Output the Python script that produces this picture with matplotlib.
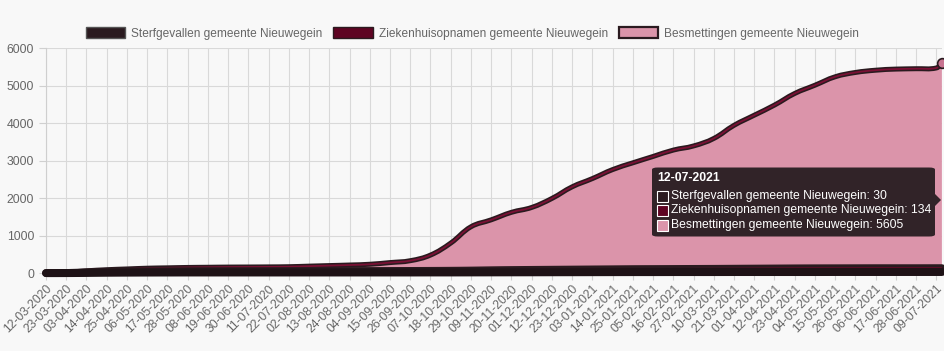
import matplotlib
matplotlib.use("Agg")
import matplotlib.pyplot as plt
import matplotlib.dates as mdates
from matplotlib.patches import Patch, FancyBboxPatch, Rectangle, Polygon, PathPatch
from matplotlib.path import Path
import numpy as np
import pandas as pd

plt.rcParams['font.family'] = ['Liberation Sans', 'DejaVu Sans']

# tick labels (every 11 days) and the last data date
tick_labels = ['12-03-2020', '23-03-2020', '03-04-2020', '14-04-2020', '25-04-2020',
               '06-05-2020', '17-05-2020', '28-05-2020', '08-06-2020', '19-06-2020',
               '30-06-2020', '11-07-2020', '22-07-2020', '02-08-2020', '13-08-2020',
               '24-08-2020', '04-09-2020', '15-09-2020', '26-09-2020', '07-10-2020',
               '18-10-2020', '29-10-2020', '09-11-2020', '20-11-2020', '01-12-2020',
               '12-12-2020', '23-12-2020', '03-01-2021', '14-01-2021', '25-01-2021',
               '05-02-2021', '16-02-2021', '27-02-2021', '10-03-2021', '21-03-2021',
               '01-04-2021', '12-04-2021', '23-04-2021', '04-05-2021', '15-05-2021',
               '26-05-2021', '06-06-2021', '17-06-2021', '28-06-2021', '09-07-2021']
last_date = '12-07-2021'

besmettingen = [0, 20, 60, 90, 110, 130, 140, 150, 155, 160,
                162, 165, 170, 185, 200, 215, 235, 280, 330, 480,
                800, 1235, 1420, 1620, 1750, 1990, 2300, 2520, 2760, 2940,
                3110, 3280, 3390, 3590, 3940, 4210, 4480, 4790, 5010, 5235,
                5350, 5410, 5440, 5450, 5470, 5605]
ziekenhuis = [0, 5, 20, 35, 45, 50, 52, 54, 55, 55,
              55, 55, 55, 56, 57, 58, 58, 59, 60, 62,
              65, 70, 78, 84, 88, 92, 96, 100, 104, 108,
              110, 112, 114, 116, 119, 122, 125, 128, 130, 131,
              132, 133, 133, 133, 134, 134]
sterfgevallen = [0, 1, 5, 10, 13, 15, 16, 17, 17, 17,
                 17, 17, 17, 17, 17, 17, 17, 17, 17, 18,
                 18, 19, 20, 21, 22, 23, 24, 25, 26, 27,
                 27, 28, 28, 28, 29, 29, 29, 29, 29, 30,
                 30, 30, 30, 30, 30, 30]

names = ['Sterfgevallen gemeente Nieuwegein',
         'Ziekenhuisopnamen gemeente Nieuwegein',
         'Besmettingen gemeente Nieuwegein']

dates = pd.to_datetime(tick_labels + [last_date], format='%d-%m-%Y')
ticks = pd.to_datetime(tick_labels, format='%d-%m-%Y')

bg = '#f8f8f8'
dark = '#2a1a1f'
crimson = '#5e0322'
pink = '#db94aa'


def spline_path(xs, ys, tension=0.4, yscale=0.0204):
    # Chart.js style bezier through the points
    xs = np.asarray(xs, float)
    ys = np.asarray(ys, float)
    n = len(xs)
    verts = [(xs[0], ys[0])]
    codes = [Path.MOVETO]
    cps = []
    for i in range(n):
        p0 = (xs[max(i - 1, 0)], ys[max(i - 1, 0)])
        p2 = (xs[min(i + 1, n - 1)], ys[min(i + 1, n - 1)])
        p1 = (xs[i], ys[i])
        d01 = np.hypot(p1[0] - p0[0], (p1[1] - p0[1]) * yscale)
        d12 = np.hypot(p2[0] - p1[0], (p2[1] - p1[1]) * yscale)
        s = d01 + d12 if d01 + d12 > 0 else 1
        fa = tension * d01 / s
        fb = tension * d12 / s
        cps.append(((p1[0] - fa * (p2[0] - p0[0]), p1[1] - fa * (p2[1] - p0[1])),
                    (p1[0] + fb * (p2[0] - p0[0]), p1[1] + fb * (p2[1] - p0[1]))))
    for i in range(1, n):
        verts += [cps[i - 1][1], cps[i][0], (xs[i], ys[i])]
        codes += [Path.CURVE4] * 3
    return verts, codes


fig = plt.figure(figsize=(9.45, 3.51), dpi=100, facecolor=bg)
ax = fig.add_axes([0.0487, 0.222, 0.948, 0.641], facecolor=bg)

xn = mdates.date2num(dates)

# Besmettingen
v, c = spline_path(xn, besmettingen)
fill_v = v + [(xn[-1], 0), (xn[0], 0), v[0]]
fill_c = c + [Path.LINETO, Path.LINETO, Path.CLOSEPOLY]
ax.add_patch(PathPatch(Path(fill_v, fill_c), facecolor=pink, edgecolor='none', zorder=2))
ax.add_patch(PathPatch(Path(v, c), facecolor='none', edgecolor=dark, lw=3.6,
                       capstyle='round', zorder=3, clip_on=False))
ax.add_patch(PathPatch(Path(v, c), facecolor='none', edgecolor='#7a1034', lw=1.3,
                       zorder=3.1, clip_on=False))
ax.plot(dates[-1:], besmettingen[-1:], 'o', ms=7, mfc='#c87390', mec=dark, mew=1.2, zorder=3.2, clip_on=False)

# Ziekenhuisopnamen
v, c = spline_path(xn, ziekenhuis)
ax.add_patch(PathPatch(Path(v, c), facecolor='none', edgecolor=dark, lw=5.5,
                       capstyle='round', zorder=4, clip_on=False))
ax.add_patch(PathPatch(Path(v, c), facecolor='none', edgecolor='#6a0a2a', lw=1.3,
                       zorder=4.1, clip_on=False))

# Sterfgevallen
v, c = spline_path(xn, sterfgevallen)
ax.add_patch(PathPatch(Path(v, c), facecolor='none', edgecolor='#1e1216', lw=5.8,
                       capstyle='round', zorder=5, clip_on=False))

ax.set_xlim(dates[0], dates[-1])
ax.set_ylim(0, 6000)
ax.set_yticks(range(0, 6001, 1000))
ax.set_xticks(ticks)
ax.set_xticklabels(tick_labels, rotation=45, ha='right', rotation_mode='anchor')
ax.tick_params(axis='both', colors='#d0d0d0', labelcolor='#666666', labelsize=8.8, length=5, width=0.8)
ax.tick_params(axis='x', pad=2)
ax.grid(True, color='#d9d9d9', lw=0.8, zorder=1)
ax.set_axisbelow(True)
for s in ['top', 'right']:
    ax.spines[s].set_visible(False)
for s in ['left', 'bottom']:
    ax.spines[s].set_color('#cfcfcf')
    ax.spines[s].set_linewidth(0.8)

# legend
handles = [Patch(facecolor=dark, edgecolor='#555555', lw=1.0),
           Patch(facecolor=crimson, edgecolor='#2a1a1f', lw=1.0),
           Patch(facecolor=pink, edgecolor=dark, lw=1.6)]
fig.legend(handles, names, loc='center', bbox_to_anchor=(0.5, 0.905), ncol=3,
           frameon=False, fontsize=8.6, handlelength=3.3, handleheight=1.1,
           handletextpad=0.5, columnspacing=0.9, labelcolor='#666666')

# tooltip
W, H = 945.0, 351.0
def fx(px):
    return px / W
def fy(py):
    return 1 - py / H

tip = FancyBboxPatch((fx(652), fy(236.5)), fx(935) - fx(652), fy(167.5) - fy(236.5),
                     boxstyle='round,pad=0,rounding_size=0.006', transform=fig.transFigure,
                     facecolor='#2b1f24', edgecolor='none', alpha=0.97, zorder=10)
fig.add_artist(tip)
fig.add_artist(Polygon([(fx(935), fy(194)), (fx(941), fy(200)), (fx(935), fy(206))],
                       closed=True, transform=fig.transFigure, facecolor='#2b1f24',
                       edgecolor='none', alpha=0.97, zorder=10))
fig.text(fx(657), fy(178), last_date, color='white', fontsize=8.8, fontweight='bold',
         va='center', ha='left', zorder=11)
values = [sterfgevallen[-1], ziekenhuis[-1], besmettingen[-1]]
swatches = [dark, crimson, pink]
for i, (n, val, col) in enumerate(zip(names, values, swatches)):
    yc = 196 + i * 14.5
    fig.add_artist(Rectangle((fx(657), fy(yc + 5.5)), fx(668) - fx(657), fy(yc - 5.5) - fy(yc + 5.5),
                             transform=fig.transFigure, facecolor=col, edgecolor='white',
                             lw=0.8, zorder=11))
    fig.text(fx(671), fy(yc), f'{n}: {val}', color='white', fontsize=8.7,
             va='center', ha='left', zorder=11)

fig.savefig('out.png', dpi=100, facecolor=bg)
